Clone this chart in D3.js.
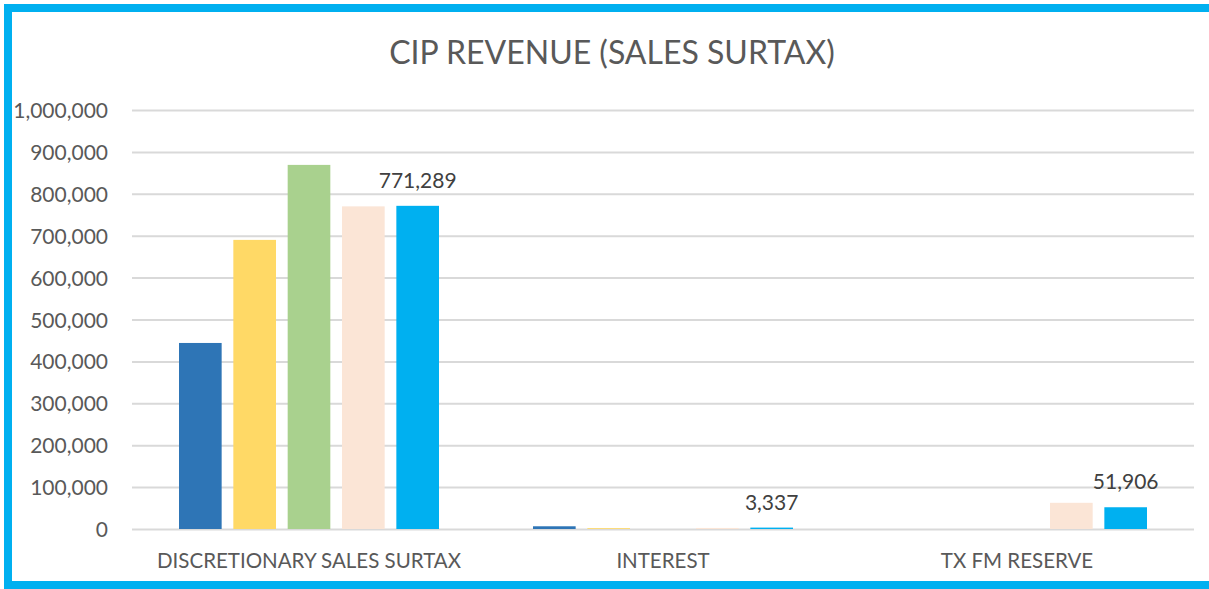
<!DOCTYPE html>
<html>
<head>
<meta charset="utf-8">
<script src="https://cdn.jsdelivr.net/npm/d3@7"></script>
<style>
  body { margin: 0; background: #fff; }
  svg { display: block; font-family: Lato, "Open Sans", sans-serif; }
</style>
</head>
<body>
<svg id="chart" width="1209" height="589"></svg>
<script>
// categories and series (5 bars per category, one per period)
var categories = ['DISCRETIONARY SALES SURTAX', 'INTEREST', 'TX FM RESERVE'];
var seriesKeys = ['s1', 's2', 's3', 's4', 's5'];
var seriesColors = ['#2E75B6', '#FFD966', '#A9D18E', '#FBE5D6', '#00B0F0'];

// values per series, in category order
var s1 = [444000, 6500, 0];
var s2 = [690000, 2000, 0];
var s3 = [869000, 0, 0];
var s4 = [770000, 2500, 62500];
var s5 = [771289, 3337, 51906];

var yTicks = [0, 100000, 200000, 300000, 400000, 500000, 600000, 700000, 800000, 900000, 1000000];

var svg = d3.select('#chart');
var W = 1209, H = 589;
var margin = { top: 110, right: 15, bottom: 60, left: 132 };
var plotW = 1194 - margin.left;
var plotH = 529 - margin.top;

// chart border
svg.append('rect')
  .attr('x', 8).attr('y', 8)
  .attr('width', W + 20).attr('height', 577)
  .attr('fill', 'none')
  .attr('stroke', '#00B0F0')
  .attr('stroke-width', 8);

svg.append('text')
  .attr('x', 612).attr('y', 64)
  .attr('text-anchor', 'middle')
  .attr('font-size', 32)
  .attr('fill', '#595959')
  .text('CIP REVENUE (SALES SURTAX)');

var g = svg.append('g').attr('transform', 'translate(' + margin.left + ',' + margin.top + ')');

var y = d3.scaleLinear().domain([0, 1000000]).range([plotH, 0]);
var x0 = d3.scaleBand().domain(categories).range([0, plotW]).paddingInner(0).paddingOuter(0);
var x1 = d3.scaleBand().domain(seriesKeys).range([47, x0.bandwidth() - 47]).paddingInner(0.215).paddingOuter(0);

// gridlines
var yAxis = d3.axisLeft(y).tickValues(yTicks).tickSize(-plotW).tickPadding(24)
  .tickFormat(d3.format(','));
var ya = g.append('g').call(yAxis);
ya.select('.domain').remove();
ya.selectAll('.tick line').attr('stroke', '#D9D9D9').attr('stroke-width', 2);
ya.selectAll('.tick text').attr('font-size', 21).attr('fill', '#595959')
  .attr('font-family', 'Lato, "Open Sans", sans-serif').attr('dy', '0.36em');

var table = categories.map(function (c, i) {
  return { cat: c, vals: [s1[i], s2[i], s3[i], s4[i], s5[i]] };
});

var groups = g.selectAll('.grp').data(table).enter().append('g')
  .attr('transform', function (d) { return 'translate(' + x0(d.cat) + ',0)'; });

groups.selectAll('rect').data(function (d) {
  return d.vals.map(function (v, j) { return { key: seriesKeys[j], v: v, j: j }; });
}).enter().append('rect')
  .attr('x', function (d) { return x1(d.key); })
  .attr('y', function (d) { return y(d.v); })
  .attr('width', x1.bandwidth())
  .attr('height', function (d) { return plotH - y(d.v); })
  .attr('fill', function (d) { return seriesColors[d.j]; });

// data labels on the last series only
groups.append('text')
  .attr('x', x1('s5') + x1.bandwidth() / 2)
  .attr('y', function (d) { return y(d.vals[4]) - 18; })
  .attr('text-anchor', 'middle')
  .attr('font-size', 21)
  .attr('fill', '#404040')
  .text(function (d) { return d3.format(',')(d.vals[4]); });

// category labels
g.selectAll('.cat').data(categories).enter().append('text')
  .attr('x', function (d) { return x0(d) + x0.bandwidth() / 2; })
  .attr('y', 568 - margin.top)
  .attr('text-anchor', 'middle')
  .attr('font-size', 20.5)
  .attr('fill', '#595959')
  .text(function (d) { return d; });
</script>
</body>
</html>
